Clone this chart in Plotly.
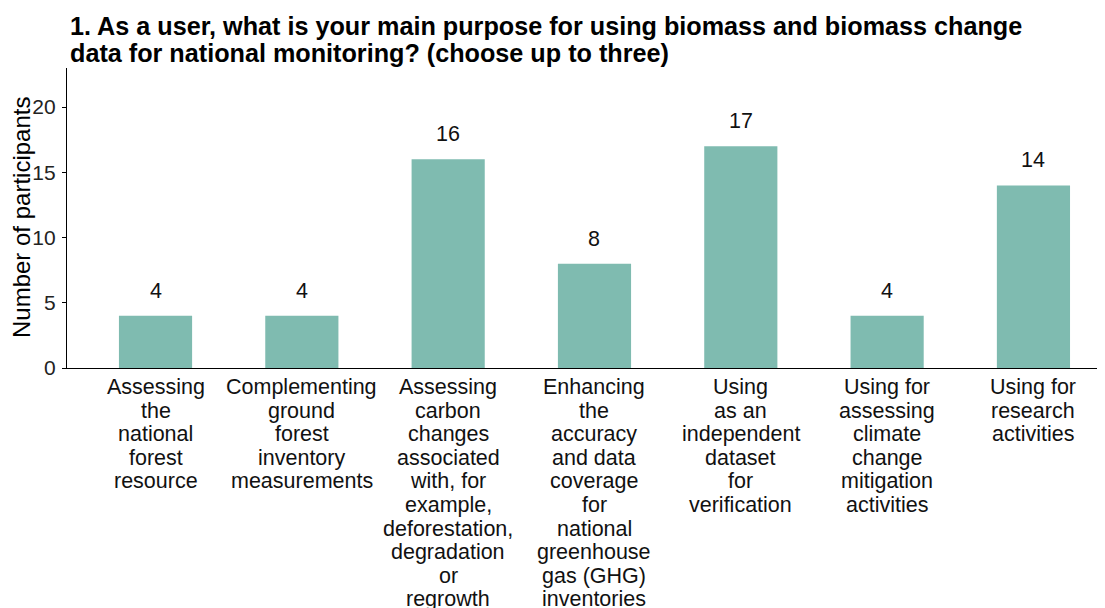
import plotly.graph_objects as go

categories = [
    "Assessing<br>the<br>national<br>forest<br>resource",
    "Complementing<br>ground<br>forest<br>inventory<br>measurements",
    "Assessing<br>carbon<br>changes<br>associated<br>with, for<br>example,<br>deforestation,<br>degradation<br>or<br>regrowth",
    "Enhancing<br>the<br>accuracy<br>and data<br>coverage<br>for<br>national<br>greenhouse<br>gas (GHG)<br>inventories",
    "Using<br>as an<br>independent<br>dataset<br>for<br>verification",
    "Using for<br>assessing<br>climate<br>change<br>mitigation<br>activities",
    "Using for<br>research<br>activities",
]
participants = [4, 4, 16, 8, 17, 4, 14]
y_ticks = [0, 5, 10, 15, 20]

title_lines = [
    "1. As a user, what is your main purpose for using biomass and biomass change",
    "data for national monitoring? (choose up to three)",
]
y_title = "Number of participants"

FONT = "Liberation Sans, Arial, sans-serif"
BAR_COLOR = "#7FBBB0"

x_idx = list(range(len(categories)))

fig = go.Figure()
fig.add_trace(go.Bar(
    x=x_idx,
    y=participants,
    width=0.5,
    marker=dict(color=BAR_COLOR, line=dict(width=0)),
    hoverinfo="skip",
))

annotations = []
# title, one annotation per line (tight line spacing)
for j, line in enumerate(title_lines):
    annotations.append(dict(
        x=0, y=1, xref="paper", yref="paper", text="<b>" + line + "</b>",
        showarrow=False, xanchor="left", yanchor="middle",
        xshift=1, yshift=42 - 27 * j,
        font=dict(family=FONT, size=25.2, color="black"),
    ))
# y-axis title
annotations.append(dict(
    x=0, y=0.5, xref="paper", yref="paper", text=y_title, showarrow=False,
    textangle=-90, xanchor="center", yanchor="middle", xshift=-46,
    font=dict(family=FONT, size=24, color="black"),
))
# value labels
for i, v in zip(x_idx, participants):
    annotations.append(dict(
        x=i, y=v, xref="x", yref="y", text=str(v), showarrow=False,
        yanchor="middle", xanchor="center", yshift=25,
        font=dict(family=FONT, size=21.5, color="#111111"),
    ))
# category labels, one annotation per line for tight line spacing
for i, lab in zip(x_idx, categories):
    for j, line in enumerate(lab.split("<br>")):
        annotations.append(dict(
            x=i, y=0, xref="x", yref="y", text=line, showarrow=False,
            yanchor="middle", xanchor="center", yshift=-(19 + 23.6 * j),
            font=dict(family=FONT, size=21.5, color="#111111"),
        ))

# the page body adds an 8px margin, so the figure is 8px smaller and margins shifted
fig.update_layout(
    width=1097, height=600,
    paper_bgcolor="white", plot_bgcolor="white",
    margin=dict(l=59, r=0, t=60, b=240, autoexpand=False),
    showlegend=False,
    annotations=annotations,
    xaxis=dict(
        range=[-0.605, 6.489],
        showticklabels=False, ticks="",
        showline=True, linecolor="black", linewidth=1.3,
        showgrid=False, zeroline=False, fixedrange=True,
        automargin=False,
    ),
    yaxis=dict(
        range=[0, 23],
        tickvals=y_ticks,
        ticktext=[str(t) for t in y_ticks],
        ticks="outside", ticklen=4, tickcolor="black", tickwidth=1.2,
        ticklabelstandoff=2,
        tickfont=dict(family=FONT, size=21, color="#222222"),
        showline=True, linecolor="black", linewidth=1.3,
        showgrid=False, zeroline=False,
        automargin=False,
    ),
)

fig.write_html("out.html")
